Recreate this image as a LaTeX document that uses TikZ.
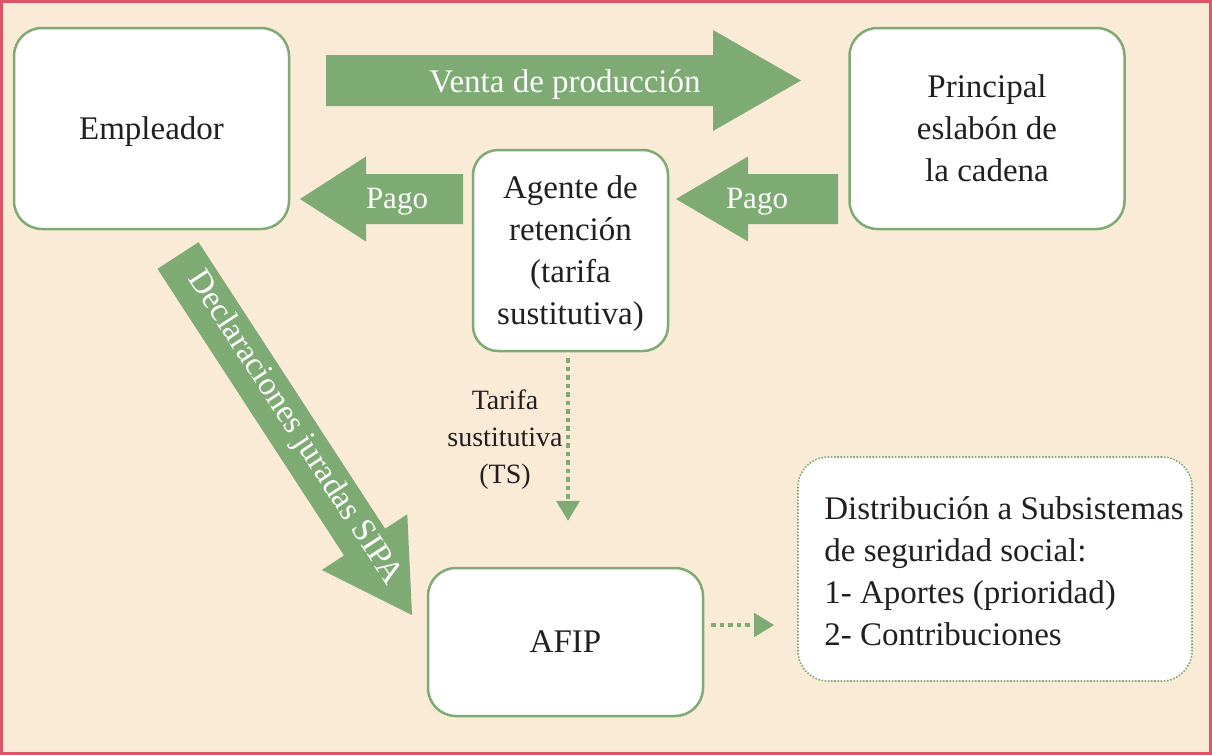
\documentclass[tikz,border=0pt]{standalone}
\usepackage{fontspec}
\setmainfont{Liberation Serif}
\usetikzlibrary{calc,arrows.meta}
\definecolor{bg}{HTML}{FAEBD7}
\definecolor{framered}{HTML}{DC5468}
\definecolor{grn}{HTML}{7EAA74}
\definecolor{ink}{HTML}{231F20}
% #1 start, #2 tip, #3 body half width, #4 head half width, #5 head length
\newcommand\blockarrow[5]{%
  \coordinate (#1h) at ($(#2)!#5!(#1)$);
  \fill[grn] ($(#1)!#3!90:(#2)$) -- ($(#1h)!#3!90:(#2)$) -- ($(#1h)!#4!90:(#2)$)
    -- (#2) -- ($(#1h)!#4!-90:(#2)$) -- ($(#1h)!#3!-90:(#2)$) -- ($(#1)!#3!-90:(#2)$) -- cycle;}
\tikzset{
  box/.style={draw=grn, line width=2.5pt, fill=white, rounded corners=28pt,
    minimum width=275pt, minimum height=201pt, align=center, text=ink, text depth=0pt,
    font=\fontsize{33}{42}\selectfont},
  distbox/.style={draw=grn, line width=1.6pt, dash pattern=on 1.6pt off 1.6pt, fill=white,
    rounded corners=30pt, minimum width=394pt, minimum height=224pt},
  disttext/.style={align=left, text=ink, inner sep=0pt, font=\fontsize{33}{42}\selectfont},
  arrowtext/.style={text=white, font=\fontsize{33}{40}\selectfont, inner sep=0pt},
  dotarrow/.style={draw=grn, line width=4.5pt, dash pattern=on 4.5pt off 4pt,
    -{Triangle[width=23pt,length=20pt]}},
  smalltext/.style={text=ink, align=center, font=\fontsize{28}{37}\selectfont}
}
\begin{document}
\begin{tikzpicture}[x=1pt,y=-1pt]
\useasboundingbox (0,0) rectangle (1212,755);
\draw[framered, line width=3pt, fill=bg] (1.5,1.5) rectangle (1210.5,753.5);

% boxes
\node[box] (emp) at (151.5,128.5) {Empleador};
\node[box] (pri) at (987,128.5) {Principal\\eslabón de\\la cadena};
\node[box, minimum width=195pt, rounded corners=25pt] (age) at (570.5,250.5)
  {Agente de\\retención\\(tarifa\\sustitutiva)};
\node[box, minimum height=148pt] (afip) at (565.5,642) {AFIP};
\node[distbox] (dist) at (995,569) {};
\node[disttext, anchor=west] (distt) at ($(dist.west)+(27,2)$)
  {Distribución a Subsistemas\\de seguridad social:\\1- Aportes (prioridad)\\2- Contribuciones};

% block arrows
\coordinate (vS) at (326,80.5);
\coordinate (vT) at (801,80.5);
\blockarrow{vS}{vT}{25.5pt}{50.5pt}{88pt}
\node[arrowtext] (vlab) at (565,85) {Venta de producción};

\coordinate (p1S) at (463,199);
\coordinate (p1T) at (300,199);
\blockarrow{p1S}{p1T}{25pt}{42.5pt}{66pt}
\node[arrowtext, font=\fontsize{31}{36}\selectfont] (p1lab) at (397,202) {Pago};

\coordinate (p2S) at (838,199);
\coordinate (p2T) at (676,199);
\blockarrow{p2S}{p2T}{25pt}{42.5pt}{72pt}
\node[arrowtext, font=\fontsize{31}{36}\selectfont] (p2lab) at (757,202) {Pago};

\coordinate (dS) at (178,255.5);
\coordinate (dT) at (412,615);
\blockarrow{dS}{dT}{24.5pt}{51pt}{87pt}
\node[arrowtext, rotate=-56.9] (dlab) at (294,428) {Declaraciones juradas SIPA};

% dotted connectors
\draw[dotarrow, shorten >=46pt] ([shift={(-2.5pt,-6pt)}]age.south) -- ([xshift=-2.5pt]age.south |- afip.north);
\coordinate (d1) at ($(afip.east)+(7,-17)$);
\draw[dotarrow, shorten >=23pt] (d1) -- (d1 -| dist.west);

\node[smalltext] (ts) at (505,440) {Tarifa\\sustitutiva\\(TS)};
\end{tikzpicture}
\end{document}
